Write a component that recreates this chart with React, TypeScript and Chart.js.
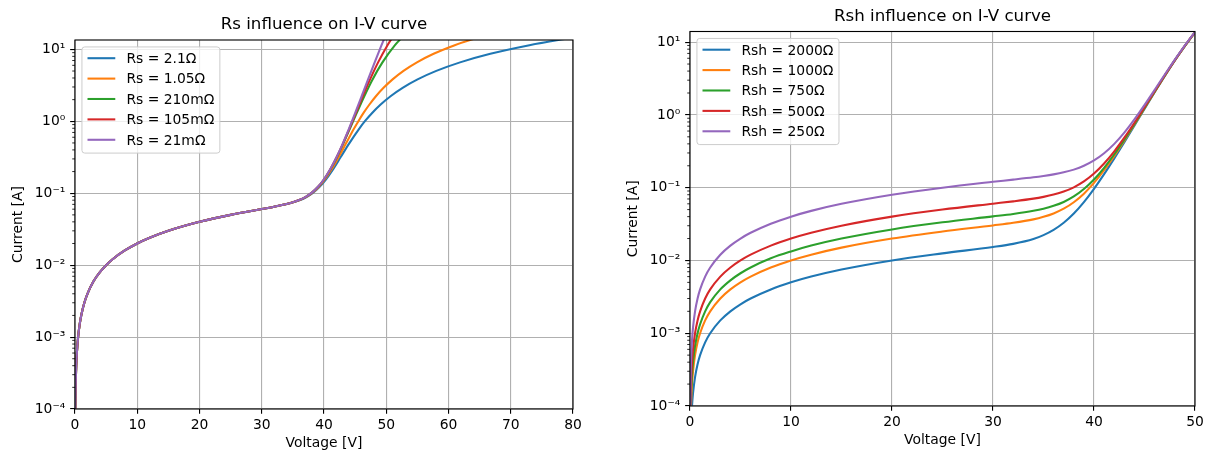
import React, { useEffect, useRef } from "react";
import { Chart, registerables } from "chart.js";

Chart.register(...registerables);

const FAMILY = "'DejaVu Sans', 'Liberation Sans', sans-serif";
const FS = 13.89;
const TITLE_FS = 16.67;
const PALETTE = ["#1f77b4", "#ff7f0e", "#2ca02c", "#d62728", "#9467bd"];

// ---- shared axis ticks ----
const yDecades = [1e-4, 1e-3, 1e-2, 1e-1, 1, 10];
const yDecadeLabels = ["10\u207B\u2074", "10\u207B\u00B3", "10\u207B\u00B2", "10\u207B\u00B9", "10\u2070", "10\u00B9"];
const xStep = 10;

// ---- left panel: Rs influence ----
const rsTitle = "Rs influence on I-V curve";
const rsLabels = ["Rs = 2.1\u03A9", "Rs = 1.05\u03A9", "Rs = 210m\u03A9", "Rs = 105m\u03A9", "Rs = 21m\u03A9"];
const rsXMax = 80;
const rsYMax = 13.5;
// common low-voltage part (all five curves overlap)
const rsLowV = [0.02, 0.05, 0.1, 0.2, 0.3, 0.5, 0.75, 1, 1.5, 2, 3, 4, 5, 6, 8, 10, 12, 15, 20, 25, 30, 32, 34, 35];
const rsLowI = [4e-5, 1e-4, 2e-4, 4e-4, 6e-4, 1e-3, 1.5e-3, 2e-3, 3e-3, 4e-3, 6e-3, 8e-3, 0.01, 0.012, 0.016, 0.02, 0.024, 0.03, 0.04, 0.05, 0.0603, 0.0649, 0.0707, 0.0748];
// knee and high-current part, per curve
const rsWideI = [0.0803, 0.0884, 0.1011, 0.1218, 0.1564, 0.215, 0.316, 0.49, 0.793, 1.019, 1.318, 1.712, 2.232, 2.919, 3.824, 5.019, 6.596, 8.677, 11.43, 13.49, 15.06];
const rs2p1V = [36.17, 37.19, 38.21, 39.26, 40.33, 41.45, 42.66, 44.03, 45.67, 46.64, 47.77, 49.1, 50.69, 52.63, 55.03, 58.04, 61.85, 66.72, 73.0, 77.63, 81.13];
const rs1p05V = [36.08, 37.09, 38.11, 39.13, 40.16, 41.23, 42.33, 43.52, 44.83, 45.57, 46.38, 47.3, 48.34, 49.57, 51.02, 52.77, 54.93, 57.61, 61.0, 63.46, 65.31];
const rsNarrowI = [0.0803, 0.0884, 0.1011, 0.1218, 0.1564, 0.215, 0.316, 0.49, 0.793, 1.318, 2.232, 3.824, 6.596, 11.43, 15.06];
const rs210mV = [36.02, 37.02, 38.02, 39.03, 40.03, 41.05, 42.07, 43.1, 44.17, 45.28, 46.47, 47.8, 49.39, 51.4, 52.66];
const rs105mV = [36.01, 37.01, 38.01, 39.01, 40.02, 41.02, 42.03, 43.05, 44.08, 45.14, 46.23, 47.4, 48.69, 50.2, 51.08];
const rs21mV = [36.0, 37.0, 38.0, 39.0, 40.0, 41.0, 42.01, 43.01, 44.02, 45.03, 46.05, 47.08, 48.14, 49.24, 49.82];

// ---- right panel: Rsh influence ----
const rshTitle = "Rsh influence on I-V curve";
const rshLabels = ["Rsh = 2000\u03A9", "Rsh = 1000\u03A9", "Rsh = 750\u03A9", "Rsh = 500\u03A9", "Rsh = 250\u03A9"];
const rshXMax = 50;
const rshYMax = 14;
const rshLowV = [0.02, 0.05, 0.1, 0.2, 0.3, 0.5, 0.75, 1, 1.5, 2, 3, 4, 5, 6, 8, 10, 12, 15, 20, 25, 30, 32, 34, 35, 36, 37, 38, 39, 40, 41];
const rsh2000LowI = [1e-5, 2.5e-5, 5e-5, 1e-4, 1.5e-4, 2.5e-4, 3.75e-4, 5e-4, 7.5e-4, 1e-3, 1.5e-3, 2e-3, 2.5e-3, 3e-3, 4e-3, 5e-3, 6e-3, 7.5e-3, 0.01, 0.0125, 0.0153, 0.0169, 0.0197, 0.0223, 0.0263, 0.0329, 0.0441, 0.0633, 0.0964, 0.1535];
const rsh1000LowI = [2e-5, 5e-5, 1e-4, 2e-4, 3e-4, 5e-4, 7.5e-4, 1e-3, 1.5e-3, 2e-3, 3e-3, 4e-3, 5e-3, 6e-3, 8e-3, 0.01, 0.012, 0.015, 0.02, 0.025, 0.0303, 0.0329, 0.0367, 0.0398, 0.0443, 0.0514, 0.0631, 0.0828, 0.1164, 0.174];
const rsh750LowI = [2.67e-5, 6.67e-5, 1.33e-4, 2.67e-4, 4e-4, 6.67e-4, 1e-3, 1.33e-3, 2e-3, 2.67e-3, 4e-3, 5.33e-3, 6.67e-3, 8e-3, 0.0107, 0.0133, 0.016, 0.02, 0.0267, 0.0334, 0.0403, 0.0436, 0.0481, 0.0514, 0.0563, 0.0637, 0.0758, 0.0958, 0.1297, 0.1877];
const rsh500LowI = [4e-5, 1e-4, 2e-4, 4e-4, 6e-4, 1e-3, 1.5e-3, 2e-3, 3e-3, 4e-3, 6e-3, 8e-3, 0.01, 0.012, 0.016, 0.02, 0.024, 0.03, 0.04, 0.05, 0.0603, 0.0649, 0.0707, 0.0748, 0.0803, 0.0884, 0.1011, 0.1218, 0.1564, 0.215];
const rsh250LowI = [8e-5, 2e-4, 4e-4, 8e-4, 1.2e-3, 2e-3, 3e-3, 4e-3, 6e-3, 8e-3, 0.012, 0.016, 0.02, 0.024, 0.032, 0.04, 0.048, 0.06, 0.08, 0.1, 0.1203, 0.1289, 0.1387, 0.1448, 0.1523, 0.1624, 0.1771, 0.1998, 0.2364, 0.297];
const rshHighV = [42.01, 43.02, 44.04, 45.06, 46.11, 47.19, 48.33, 49.57, 50.25];
const rsh2000HighI = [0.253, 0.4255, 0.727, 1.2505, 2.163, 3.754, 6.524, 11.355, 14.985];
const rsh1000HighI = [0.274, 0.447, 0.749, 1.273, 2.186, 3.777, 6.548, 11.379, 15.01];
const rsh750HighI = [0.288, 0.4613, 0.7637, 1.288, 2.201, 3.793, 6.564, 11.395, 15.026];
const rsh500HighI = [0.316, 0.49, 0.793, 1.318, 2.232, 3.824, 6.596, 11.43, 15.06];
const rsh250HighI = [0.4, 0.576, 0.881, 1.408, 2.324, 3.918, 6.692, 11.526, 15.158];

type Pt = { x: number; y: number };
const pts = (xs: number[], ys: number[]): Pt[] => xs.map((x, i) => ({ x, y: ys[i] }));

const rsSeries: Pt[][] = [
  [...pts(rsLowV, rsLowI), ...pts(rs2p1V, rsWideI)],
  [...pts(rsLowV, rsLowI), ...pts(rs1p05V, rsWideI)],
  [...pts(rsLowV, rsLowI), ...pts(rs210mV, rsNarrowI)],
  [...pts(rsLowV, rsLowI), ...pts(rs105mV, rsNarrowI)],
  [...pts(rsLowV, rsLowI), ...pts(rs21mV, rsNarrowI)],
];
const rshSeries: Pt[][] = [
  [...pts(rshLowV, rsh2000LowI), ...pts(rshHighV, rsh2000HighI)],
  [...pts(rshLowV, rsh1000LowI), ...pts(rshHighV, rsh1000HighI)],
  [...pts(rshLowV, rsh750LowI), ...pts(rshHighV, rsh750HighI)],
  [...pts(rshLowV, rsh500LowI), ...pts(rshHighV, rsh500HighI)],
  [...pts(rshLowV, rsh250LowI), ...pts(rshHighV, rsh250HighI)],
];

const isDecade = (v: number) => Math.abs(Math.log10(v) - Math.round(Math.log10(v))) < 1e-6;
const yMinorTicks: number[] = [];
yDecades.forEach((d) => {
  for (let k = 2; k <= 9; k++) yMinorTicks.push(d * k);
});

interface Panel {
  title: string;
  labels: string[];
  series: Pt[][];
  xMax: number;
  yMax: number;
  width: number;
  height: number;
  area: { left: number; top: number; right: number; bottom: number };
}

function decorPlugin(p: Panel) {
  return {
    id: "decor",
    afterDraw(chart: any) {
      const ctx: CanvasRenderingContext2D = chart.ctx;
      const a = chart.chartArea;
      const ys = chart.scales.y;
      ctx.save();
      // frame (spines)
      ctx.strokeStyle = "#000";
      ctx.lineWidth = 1.11;
      ctx.strokeRect(a.left, a.top, a.right - a.left, a.bottom - a.top);
      // minor log ticks
      ctx.lineWidth = 0.83;
      yMinorTicks.forEach((v) => {
        if (v < ys.min || v > ys.max) return;
        const y = ys.getPixelForValue(v);
        ctx.beginPath();
        ctx.moveTo(a.left - 2.78, y);
        ctx.lineTo(a.left, y);
        ctx.stroke();
      });
      // legend
      ctx.font = `${FS}px ${FAMILY}`;
      const bp = 0.4 * FS, ls = 0.5 * FS, hl = 2 * FS, htp = 0.8 * FS, rowH = 13.45, asc = 10.56;
      const maxW = Math.max(...p.labels.map((l) => ctx.measureText(l).width));
      const bx = a.left + 0.5 * FS;
      const by = a.top + 0.5 * FS;
      const bw = 2 * bp + hl + htp + maxW;
      const bh = 2 * bp + p.labels.length * rowH + (p.labels.length - 1) * ls;
      ctx.beginPath();
      ctx.roundRect(bx, by, bw, bh, 0.2 * FS);
      ctx.fillStyle = "rgba(255,255,255,0.8)";
      ctx.fill();
      ctx.strokeStyle = "#cccccc";
      ctx.lineWidth = 1.0;
      ctx.stroke();
      p.labels.forEach((lab, i) => {
        const rowTop = by + bp + i * (rowH + ls);
        const base = rowTop + asc;
        const ly = base - 4.86;
        ctx.strokeStyle = PALETTE[i];
        ctx.lineWidth = 2.08;
        ctx.beginPath();
        ctx.moveTo(bx + bp, ly);
        ctx.lineTo(bx + bp + hl, ly);
        ctx.stroke();
        ctx.fillStyle = "#000";
        ctx.textAlign = "left";
        ctx.textBaseline = "alphabetic";
        ctx.fillText(lab, bx + bp + hl + htp, base);
      });
      // title
      ctx.fillStyle = "#000";
      ctx.font = `${TITLE_FS}px ${FAMILY}`;
      ctx.textAlign = "center";
      ctx.textBaseline = "alphabetic";
      const cx = (a.left + a.right) / 2;
      ctx.fillText(p.title, cx, a.top - 10.8);
      // axis labels
      ctx.font = `${FS}px ${FAMILY}`;
      ctx.fillText("Voltage [V]", cx, a.bottom + 38);
      ctx.save();
      ctx.translate(a.left - 53, (a.top + a.bottom) / 2);
      ctx.rotate(-Math.PI / 2);
      ctx.fillText("Current [A]", 0, 0);
      ctx.restore();
      ctx.restore();
    },
  };
}

function makeChart(canvas: HTMLCanvasElement, p: Panel) {
  const a = p.area;
  return new Chart(canvas, {
    type: "line",
    data: {
      datasets: p.series.map((d, i) => ({
        label: p.labels[i],
        data: d,
        borderColor: PALETTE[i],
        backgroundColor: PALETTE[i],
        borderWidth: 2.08,
        pointRadius: 0,
        fill: false,
        cubicInterpolationMode: "monotone",
        clip: 0,
        order: p.series.length - 1 - i,
      })),
    },
    options: {
      responsive: false,
      animation: false,
      events: [],
      layout: { padding: { left: 0, top: a.top, right: p.width - a.right, bottom: 0 } },
      plugins: {
        legend: { display: false },
        title: { display: false },
        tooltip: { enabled: false },
      },
      scales: {
        x: {
          type: "linear",
          position: "bottom",
          min: 0,
          max: p.xMax,
          ticks: {
            stepSize: xStep,
            color: "#000",
            font: { family: FAMILY, size: FS },
            padding: 3,
            maxRotation: 0,
            autoSkip: false,
          },
          grid: {
            color: "#b0b0b0",
            lineWidth: 1.11,
            tickLength: 4.86,
            tickWidth: 1.11,
            tickColor: "#000",
            drawTicks: true,
          },
          border: { display: false },
          afterFit: (s: any) => {
            s.height = p.height - a.bottom;
          },
        },
        y: {
          type: "logarithmic",
          position: "left",
          min: 1e-4,
          max: p.yMax,
          afterBuildTicks: (s: any) => {
            s.ticks = [...yDecades, ...yMinorTicks]
              .filter((v) => v >= 1e-4 && v <= p.yMax)
              .sort((u, v) => u - v)
              .map((v) => ({ value: v, major: isDecade(v) }));
          },
          ticks: {
            autoSkip: false,
            color: "#000",
            font: { family: FAMILY, size: FS },
            padding: 4.86,
            callback: (v: any) => {
              const idx = yDecades.findIndex((d) => Math.abs(d - Number(v)) / d < 1e-6);
              return idx >= 0 ? yDecadeLabels[idx] : "";
            },
          },
          grid: {
            color: (c: any) => (c.tick && isDecade(c.tick.value) ? "#b0b0b0" : "rgba(0,0,0,0)"),
            tickColor: (c: any) => (c.tick && isDecade(c.tick.value) ? "#000" : "rgba(0,0,0,0)"),
            lineWidth: 1.11,
            tickLength: 4.86,
            tickWidth: 1.11,
            drawTicks: true,
          },
          border: { display: false },
          afterFit: (s: any) => {
            s.width = a.left;
          },
        },
      },
    },
    plugins: [decorPlugin(p)],
  } as any);
}

const leftPanel: Panel = {
  title: rsTitle,
  labels: rsLabels,
  series: rsSeries,
  xMax: rsXMax,
  yMax: rsYMax,
  width: 606,
  height: 452,
  area: { left: 75, top: 40, right: 573, bottom: 409 },
};
const rightPanel: Panel = {
  title: rshTitle,
  labels: rshLabels,
  series: rshSeries,
  xMax: rshXMax,
  yMax: rshYMax,
  width: 607,
  height: 452,
  area: { left: 84, top: 31.5, right: 589, bottom: 406 },
};

function PanelChart({ panel, left }: { panel: Panel; left: number }) {
  const ref = useRef<HTMLCanvasElement | null>(null);
  useEffect(() => {
    if (!ref.current) return;
    const chart = makeChart(ref.current, panel);
    return () => chart.destroy();
  }, [panel]);
  return (
    <canvas
      ref={ref}
      width={panel.width}
      height={panel.height}
      style={{ position: "absolute", left, top: 0, width: panel.width, height: panel.height }}
    />
  );
}

export default function App() {
  return (
    <div style={{ position: "absolute", left: 0, top: 0, width: 1213, height: 452, background: "#fff" }}>
      <PanelChart panel={leftPanel} left={0} />
      <PanelChart panel={rightPanel} left={606} />
    </div>
  );
}
